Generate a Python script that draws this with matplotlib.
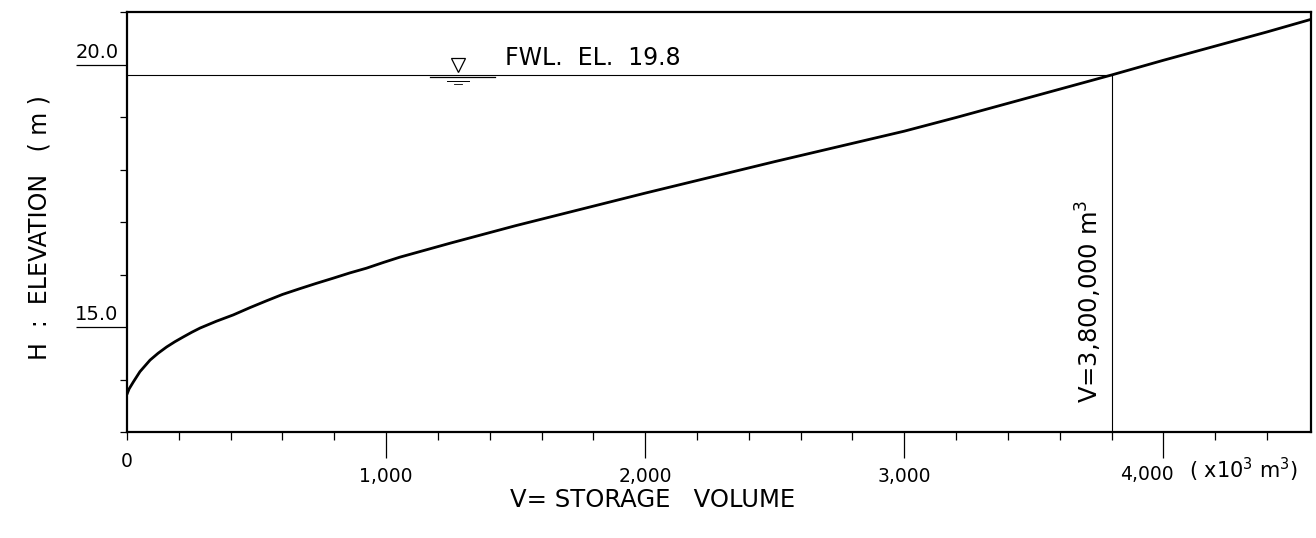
import matplotlib
matplotlib.use("Agg")
import matplotlib.pyplot as plt
from matplotlib.ticker import MultipleLocator, FixedLocator, NullFormatter
from matplotlib.transforms import offset_copy, blended_transform_factory

# Storage curve of the reservoir (volume in 10^3 m^3, elevation in m)
volume = [0, 8, 24, 50, 89, 120, 153, 185, 217, 250, 282, 345, 410, 475,
          539, 600, 667, 730, 796, 860, 924, 990, 1053, 1250, 1500, 1750,
          2000, 2250, 2500, 2750, 3000, 3200, 3400, 3600, 3800, 4000, 4200,
          4400, 4570]
elevation = [13.72, 13.82, 13.95, 14.15, 14.37, 14.50, 14.62, 14.72, 14.81,
             14.90, 14.98, 15.11, 15.23, 15.37, 15.50, 15.62, 15.73, 15.83,
             15.93, 16.03, 16.12, 16.23, 16.33, 16.60, 16.93, 17.24, 17.55,
             17.85, 18.15, 18.44, 18.73, 18.99, 19.26, 19.53, 19.80, 20.08,
             20.35, 20.62, 20.86]

fwl_elevation = 19.8
fwl_volume = 3800

x_major = [1000, 2000, 3000, 4000]
x_major_labels = ["1,000", "2,000", "3,000", ""]
y_major = [15.0, 20.0]
y_major_labels = ["15.0", "20.0"]

plt.rcParams["font.family"] = ["DejaVu Sans"]

fig = plt.figure(figsize=(13.16, 5.38), dpi=100)
ax = fig.add_axes([127 / 1316, 1 - 432 / 538, (1311 - 127) / 1316, (432 - 12) / 538])
ax.set_xlim(0, 4570)
ax.set_ylim(13.0, 21.0)

for s in ax.spines.values():
    s.set_linewidth(1.6)
    s.set_color("black")

# storage curve
ax.plot(volume, elevation, color="black", lw=2.0, solid_capstyle="round",
        solid_joinstyle="round")

# full water level line and the storage at FWL
ax.plot([0, fwl_volume], [fwl_elevation, fwl_elevation], color="black", lw=0.8)
ax.plot([fwl_volume, fwl_volume], [13.0, fwl_elevation], color="black", lw=0.8)

# water-level symbol
ax.plot([1276], [fwl_elevation + 0.19], marker="v", markersize=10,
        markerfacecolor="white", markeredgecolor="black", markeredgewidth=0.9)
ax.plot([1170, 1420], [fwl_elevation - 0.04, fwl_elevation - 0.04], color="black", lw=0.9)
ax.plot([1235, 1320], [fwl_elevation - 0.11, fwl_elevation - 0.11], color="black", lw=0.7)
ax.plot([1262, 1292], [fwl_elevation - 0.18, fwl_elevation - 0.18], color="black", lw=0.6)
ax.text(1460, fwl_elevation + 0.1, "FWL.  EL.  19.8", fontsize=17,
        ha="left", va="bottom")

ax.text(fwl_volume - 30, 13.55, "V=3,800,000 m$^3$", rotation=90, fontsize=17.5,
        ha="right", va="bottom")

# x axis ticks
ax.xaxis.set_major_locator(FixedLocator(x_major))
ax.set_xticklabels(x_major_labels)
ax.xaxis.set_minor_locator(MultipleLocator(200))
ax.tick_params(axis="x", which="major", direction="out", length=19, width=0.9,
               pad=6, labelsize=13.5)
ax.tick_params(axis="x", which="minor", direction="out", length=6, width=0.9)

# y axis ticks: long outward major ticks with labels sitting on top
ax.yaxis.set_major_locator(FixedLocator(y_major))
ax.yaxis.set_minor_locator(MultipleLocator(1.0))
ax.yaxis.set_major_formatter(NullFormatter())
ax.tick_params(axis="y", which="major", direction="out", length=37, width=0.9)
ax.tick_params(axis="y", which="minor", direction="out", length=5, width=0.9)

ylab_tr = offset_copy(blended_transform_factory(ax.transAxes, ax.transData),
                      fig=fig, x=-6, y=2, units="points")
for v, lab in zip(y_major, y_major_labels):
    ax.text(0, v, lab, transform=ylab_tr, fontsize=14, ha="right", va="bottom")

xt = blended_transform_factory(ax.transData, ax.transAxes)
ax.text(0, -0.07, "0", transform=xt, fontsize=13.5, ha="center", va="center")
ax.text(3935, -0.1, "4,000", transform=xt, fontsize=13.5, ha="center", va="center")
ax.text(4100, -0.09, "( x10$^3$ m$^3$)", transform=xt, fontsize=15,
        ha="left", va="center")

fig.text(653 / 1316, 1 - 500 / 538, "V= STORAGE   VOLUME", fontsize=17.5,
         ha="center", va="center")
fig.text(40 / 1316, 1 - 228 / 538, "H  :  ELEVATION   ( m )", fontsize=17,
         rotation=90, ha="center", va="center")

fig.savefig("out.png", dpi=100)
